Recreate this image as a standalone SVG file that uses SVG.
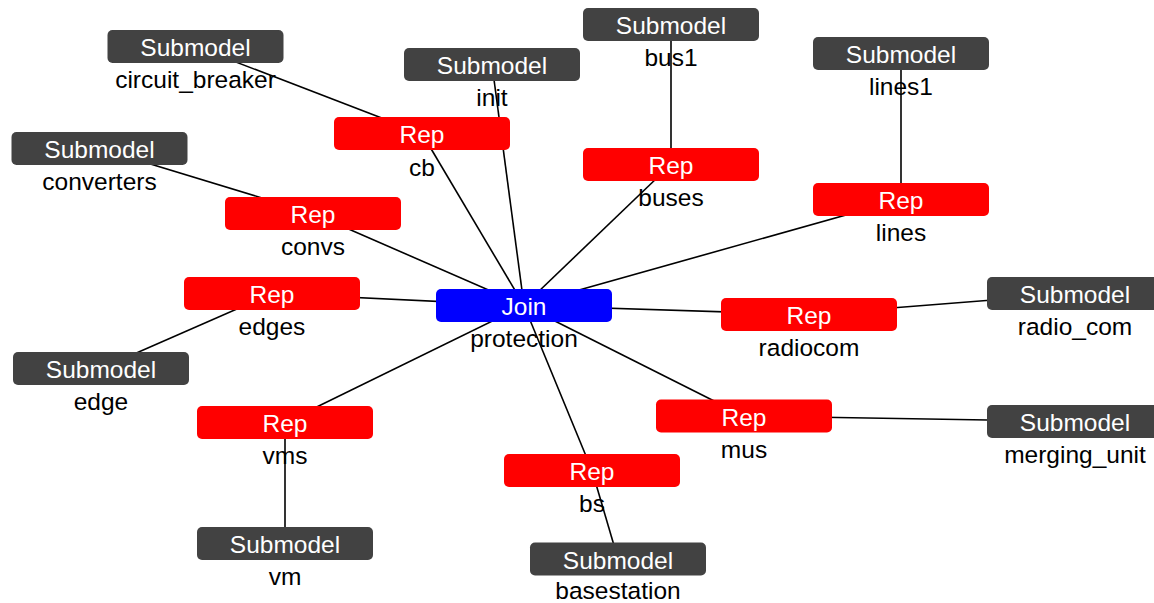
<svg xmlns="http://www.w3.org/2000/svg" width="1154" height="603" viewBox="0 0 1154 603">
  <style>
    .box { stroke: none; }
    .rep { fill: #ff0000; }
    .join { fill: #0000ff; }
    .sub { fill: #424242; }
    .title { font-family: "Liberation Sans", Arial, sans-serif; font-size: 24.5px; fill: #ffffff; text-anchor: middle; }
    .name { font-family: "Liberation Sans", Arial, sans-serif; font-size: 24.5px; fill: #000000; text-anchor: middle; }
    .edge { stroke: #000000; stroke-width: 1.6; fill: none; }
  </style>
  <rect width="1154" height="603" fill="#ffffff"/>

  <!-- connectors: centre to centre -->
  <g id="connectors">
    <line class="edge" x1="524" y1="305.5" x2="422" y2="133.5"/>
    <line class="edge" x1="524" y1="305.5" x2="492" y2="64.5"/>
    <line class="edge" x1="524" y1="305.5" x2="671" y2="164.5"/>
    <line class="edge" x1="524" y1="305.5" x2="901" y2="199.5"/>
    <line class="edge" x1="524" y1="305.5" x2="313" y2="213.5"/>
    <line class="edge" x1="524" y1="305.5" x2="272" y2="293.5"/>
    <line class="edge" x1="524" y1="305.5" x2="809" y2="314.5"/>
    <line class="edge" x1="524" y1="305.5" x2="285" y2="422.5"/>
    <line class="edge" x1="524" y1="305.5" x2="744" y2="416"/>
    <line class="edge" x1="524" y1="305.5" x2="592" y2="470.5"/>
    <line class="edge" x1="422" y1="133.5" x2="195.5" y2="46.5"/>
    <line class="edge" x1="671" y1="164.5" x2="671" y2="24.5"/>
    <line class="edge" x1="901" y1="199.5" x2="901" y2="53.5"/>
    <line class="edge" x1="313" y1="213.5" x2="99.5" y2="148.5"/>
    <line class="edge" x1="272" y1="293.5" x2="101" y2="368.5"/>
    <line class="edge" x1="809" y1="314.5" x2="1075" y2="293.5"/>
    <line class="edge" x1="285" y1="422.5" x2="285" y2="543.5"/>
    <line class="edge" x1="744" y1="416" x2="1075" y2="421.5"/>
    <line class="edge" x1="592" y1="470.5" x2="618" y2="559"/>
  </g>

  <!-- central join -->
  <g id="join-protection">
    <rect class="box join" x="436" y="289" width="176" height="33" rx="5"/>
    <text class="title" x="524" y="315">Join</text>
    <text class="name" x="524" y="347">protection</text>
  </g>

  <!-- Rep nodes -->
  <g id="rep-cb">
    <rect class="box rep" x="334" y="117" width="176" height="33" rx="5"/>
    <text class="title" x="422" y="143">Rep</text>
    <text class="name" x="422" y="176">cb</text>
  </g>
  <g id="rep-buses">
    <rect class="box rep" x="583" y="148" width="176" height="33" rx="5"/>
    <text class="title" x="671" y="174">Rep</text>
    <text class="name" x="671" y="206">buses</text>
  </g>
  <g id="rep-lines">
    <rect class="box rep" x="813" y="183" width="176" height="33" rx="5"/>
    <text class="title" x="901" y="209">Rep</text>
    <text class="name" x="901" y="241">lines</text>
  </g>
  <g id="rep-convs">
    <rect class="box rep" x="225" y="197" width="176" height="33" rx="5"/>
    <text class="title" x="313" y="223">Rep</text>
    <text class="name" x="313" y="255">convs</text>
  </g>
  <g id="rep-edges">
    <rect class="box rep" x="184" y="277" width="176" height="33" rx="5"/>
    <text class="title" x="272" y="303">Rep</text>
    <text class="name" x="272" y="335">edges</text>
  </g>
  <g id="rep-radiocom">
    <rect class="box rep" x="721" y="298" width="176" height="33" rx="5"/>
    <text class="title" x="809" y="324">Rep</text>
    <text class="name" x="809" y="356">radiocom</text>
  </g>
  <g id="rep-vms">
    <rect class="box rep" x="197" y="406" width="176" height="33" rx="5"/>
    <text class="title" x="285" y="432">Rep</text>
    <text class="name" x="285" y="464">vms</text>
  </g>
  <g id="rep-mus">
    <rect class="box rep" x="656" y="399.5" width="176" height="33" rx="5"/>
    <text class="title" x="744" y="425.5">Rep</text>
    <text class="name" x="744" y="457.5">mus</text>
  </g>
  <g id="rep-bs">
    <rect class="box rep" x="504" y="454" width="176" height="33" rx="5"/>
    <text class="title" x="592" y="480">Rep</text>
    <text class="name" x="592" y="512">bs</text>
  </g>

  <!-- Submodel nodes -->
  <g id="sub-circuit-breaker">
    <rect class="box sub" x="107.5" y="30" width="176" height="33" rx="5"/>
    <text class="title" x="195.5" y="56">Submodel</text>
    <text class="name" x="195.5" y="88">circuit_breaker</text>
  </g>
  <g id="sub-init">
    <rect class="box sub" x="404" y="48" width="176" height="33" rx="5"/>
    <text class="title" x="492" y="74">Submodel</text>
    <text class="name" x="492" y="106">init</text>
  </g>
  <g id="sub-bus1">
    <rect class="box sub" x="583" y="8" width="176" height="33" rx="5"/>
    <text class="title" x="671" y="34">Submodel</text>
    <text class="name" x="671" y="66">bus1</text>
  </g>
  <g id="sub-lines1">
    <rect class="box sub" x="813" y="37" width="176" height="33" rx="5"/>
    <text class="title" x="901" y="63">Submodel</text>
    <text class="name" x="901" y="95">lines1</text>
  </g>
  <g id="sub-converters">
    <rect class="box sub" x="11.5" y="132" width="176" height="33" rx="5"/>
    <text class="title" x="99.5" y="158">Submodel</text>
    <text class="name" x="99.5" y="190">converters</text>
  </g>
  <g id="sub-edge">
    <rect class="box sub" x="13" y="352" width="176" height="33" rx="5"/>
    <text class="title" x="101" y="378">Submodel</text>
    <text class="name" x="101" y="410">edge</text>
  </g>
  <g id="sub-radio-com">
    <rect class="box sub" x="987" y="277" width="176" height="33" rx="5"/>
    <text class="title" x="1075" y="303">Submodel</text>
    <text class="name" x="1075" y="335">radio_com</text>
  </g>
  <g id="sub-merging-unit">
    <rect class="box sub" x="987" y="405" width="176" height="33" rx="5"/>
    <text class="title" x="1075" y="431">Submodel</text>
    <text class="name" x="1075" y="463">merging_unit</text>
  </g>
  <g id="sub-vm">
    <rect class="box sub" x="197" y="527" width="176" height="33" rx="5"/>
    <text class="title" x="285" y="553">Submodel</text>
    <text class="name" x="285" y="585">vm</text>
  </g>
  <g id="sub-basestation">
    <rect class="box sub" x="530" y="542.5" width="176" height="33" rx="5"/>
    <text class="title" x="618" y="568.5">Submodel</text>
    <text class="name" x="618" y="599">basestation</text>
  </g>
</svg>
